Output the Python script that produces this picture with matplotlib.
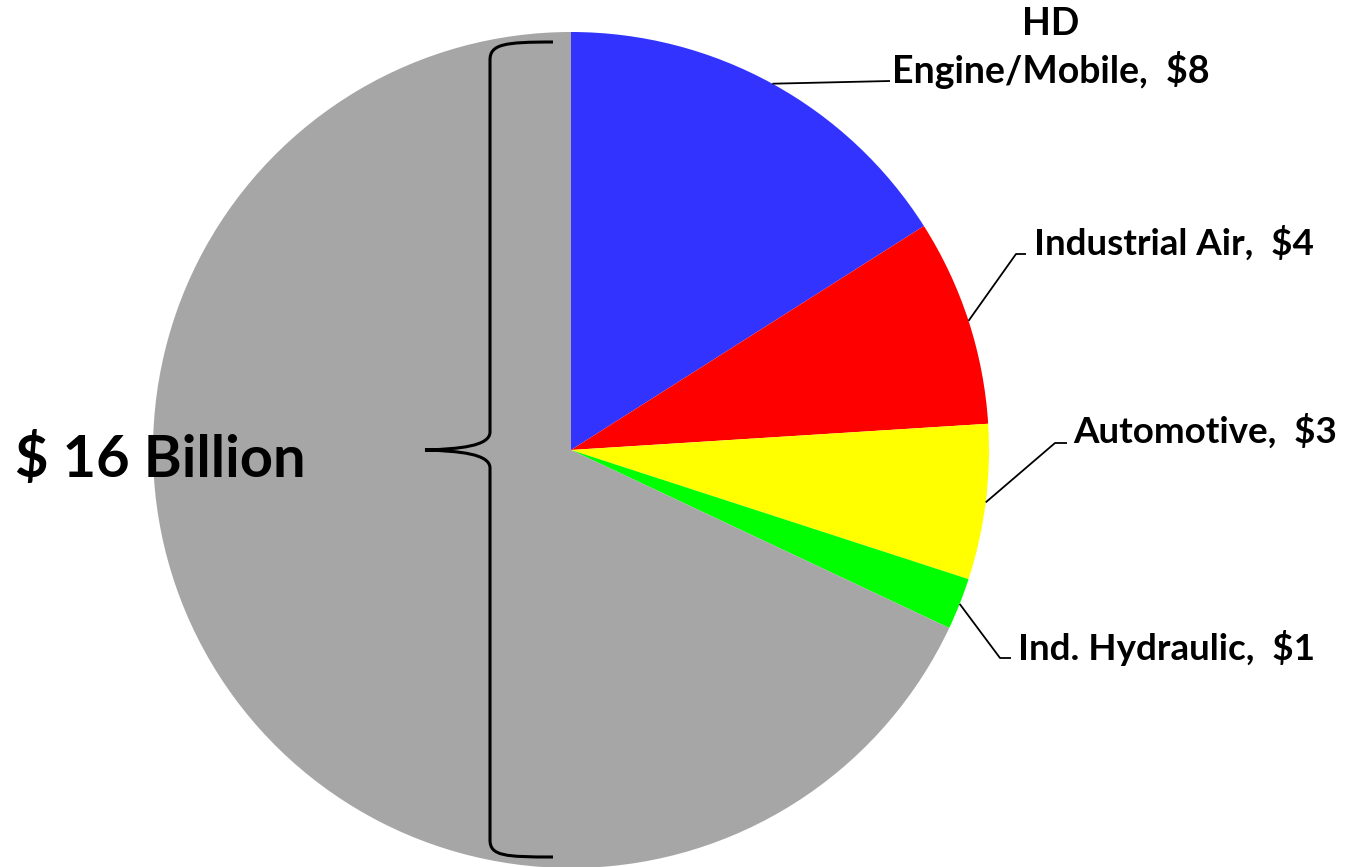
import numpy as np
import matplotlib
matplotlib.use("Agg")
import matplotlib.pyplot as plt
from matplotlib.path import Path
from matplotlib.patches import PathPatch

# ---- data ----
categories = ["HD\nEngine/Mobile", "Industrial Air", "Automotive", "Ind. Hydraulic", "Other"]
values = [8, 4, 3, 1, 34]
colors = ["#3333FF", "#FF0000", "#FFFF00", "#00FF00", "#A6A6A6"]
label_texts = ["HD\nEngine/Mobile,  $8", "Industrial Air,  $4", "Automotive,  $3", "Ind. Hydraulic,  $1"]
total_label = "$ 16 Billion"

W, H = 1347, 867
plt.rcParams['font.family'] = ['Lato', 'DejaVu Sans']
fig = plt.figure(figsize=(W / 100, H / 100), dpi=100)
ax = fig.add_axes([0, 0, 1, 1])

def Y(py):
    return H - py

cx, cy, R = 571, Y(450), 418
wedges, _ = ax.pie(values, colors=colors, startangle=90, counterclock=False,
                   center=(cx, cy), radius=R, wedgeprops=dict(linewidth=0))
ax.set_xlim(0, W)
ax.set_ylim(0, H)
ax.set_aspect('equal')
ax.axis('off')

# leader lines + labels
elbows = [(890, 81), (1016, 254), (1055, 443), (1000, 658)]
ends = [(890, 81), (1026, 254), (1067, 443), (1011, 658)]
fs = 26.5
for i in range(4):
    w = wedges[i]
    mid = np.deg2rad((w.theta1 + w.theta2) / 2)
    sx, sy = cx + R * np.cos(mid), cy + R * np.sin(mid)
    ex, ey = elbows[i]
    fx, fy = ends[i]
    ax.plot([sx, ex, fx], [sy, Y(ey), Y(fy)], color='black', lw=1.3,
            solid_capstyle='butt')

ax.text(1051, Y(35), "HD", ha='center', va='baseline', fontsize=27, fontweight='bold')
ax.text(1051, Y(83), "Engine/Mobile,  $8", ha='center', va='baseline', fontsize=27, fontweight='bold')
ax.text(1034, Y(255), label_texts[1], ha='left', va='baseline', fontsize=fs, fontweight='bold')
ax.text(1073, Y(443), label_texts[2], ha='left', va='baseline', fontsize=fs, fontweight='bold')
ax.text(1018, Y(660), label_texts[3], ha='left', va='baseline', fontsize=fs, fontweight='bold')

ax.text(15, Y(477), total_label, ha='left', va='baseline', fontsize=41.7, fontweight='bold')

# brace
pts = [
    (553, 42), (505, 42), (490, 44), (490, 60),
    (490, 432),
    (490, 446), (460, 449), (425, 450),
    (460, 451), (490, 454), (490, 468),
    (490, 840),
    (490, 856), (505, 857), (553, 857),
]
codes = [Path.MOVETO, Path.CURVE4, Path.CURVE4, Path.CURVE4,
         Path.LINETO,
         Path.CURVE4, Path.CURVE4, Path.CURVE4,
         Path.CURVE4, Path.CURVE4, Path.CURVE4,
         Path.LINETO,
         Path.CURVE4, Path.CURVE4, Path.CURVE4]
verts = [(x, Y(y)) for x, y in pts]
ax.add_patch(PathPatch(Path(verts, codes), facecolor='none', edgecolor='black', lw=2.2))

fig.savefig("out.png", dpi=100)
